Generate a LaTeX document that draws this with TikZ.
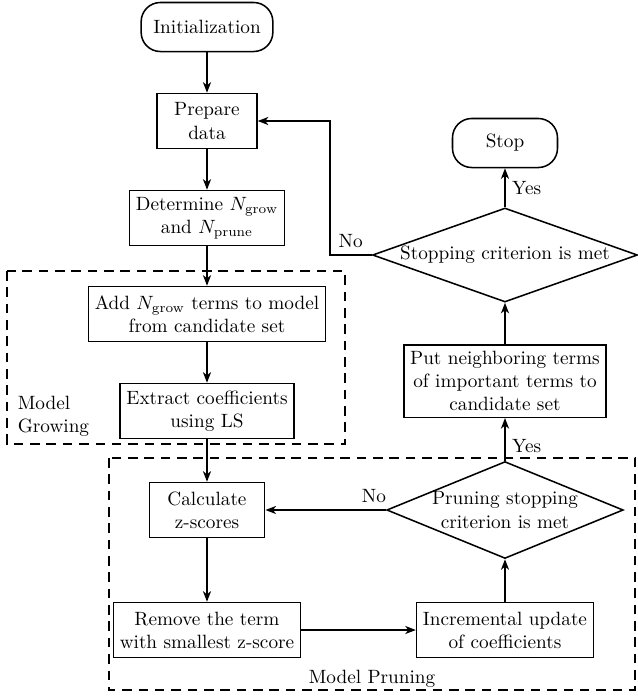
\documentclass[tikz,border=0pt]{standalone}
\usepackage{tikz}
\usetikzlibrary{arrows.meta,shapes.geometric,positioning}
\tikzset{
  box/.style={draw,line width=0.8pt,align=center,minimum width=#1,minimum height=28.6pt},
  box/.default=0pt,
  term/.style={draw,line width=0.8pt,rounded corners=10pt,minimum width=#1,minimum height=25.5pt},
  decide/.style 2 args={draw,line width=0.8pt,diamond,align=center,inner sep=-2pt,
              minimum width=#1,minimum height=#2},
  flow/.style={-{Stealth[length=5.5pt,width=4.2pt,inset=1.6pt]},line width=0.8pt},
  group/.style={line width=0.8pt,dash pattern=on 5pt off 3.5pt},
}

\begin{document}
\begin{tikzpicture}[x=0.52pt,y=-0.52pt]
  \useasboundingbox (0,0) rectangle (637,698);

  % ---------- groups ----------
  \draw[group] (7,271) rectangle (345,444);
  \draw[group] (109,458) rectangle (635,690);
  \node[anchor=west,align=left] (growlab) at (11,416) {Model\\Growing};
  \node (prunelab) at (372,679) {Model Pruning};

  % ---------- left column ----------
  \node[term=68.5pt] (init) at (207,27) {Initialization};
  \node[box=52pt] (prep) at (207,121) {Prepare\\data};
  \node[box] (det) at (207,218) {Determine $N_{\mathrm{grow}}$\\and $N_{\mathrm{prune}}$};
  \node[box] (add) at (207,314) {Add $N_{\mathrm{grow}}$ terms to model\\from candidate set};
  \node[box] (ext) at (207,411) {Extract coefficients\\using LS};
  \node[box=60pt] (calc) at (207,510) {Calculate\\z-scores};
  \node[box] (rem) at (207,630) {Remove the term\\with smallest z-score};

  % ---------- right column ----------
  \node[box] (inc) at (505,630) {Incremental update\\of coefficients};
  \node[decide={123pt}{50.4pt},aspect=2.44] (prune) at (505,510)
       {Pruning stopping\\criterion is met};
  \node[box] (put) at (505,381) {Put neighboring terms\\of important terms to\\candidate set};
  \node[decide={137.8pt}{48.9pt},aspect=2.8] (stopc) at (505,255)
       {Stopping criterion is met};
  \node[term=54.6pt] (stop) at (505,143) {Stop};

  % ---------- connectors ----------
  \draw[flow] (init) -- (prep);
  \draw[flow] (prep) -- (det);
  \draw[flow] (det) -- (add);
  \draw[flow] (add) -- (ext);
  \draw[flow] (ext) -- (calc);
  \draw[flow] (calc) -- (rem);
  \draw[flow] (rem) -- (inc);
  \draw[flow] (inc) -- (prune);
  \draw[flow] (prune) -- node[pos=0.1,above] {No} (calc);
  \draw[flow] (prune) -- node[pos=0.35,right] {Yes} (put);
  \draw[flow] (put) -- (stopc);
  \draw[flow] (stopc) -- node[right] {Yes} (stop);
  \draw[flow] (stopc.west) -- ++(-42,0) node[midway,above] {No} |- (prep.east);
\end{tikzpicture}
\end{document}
